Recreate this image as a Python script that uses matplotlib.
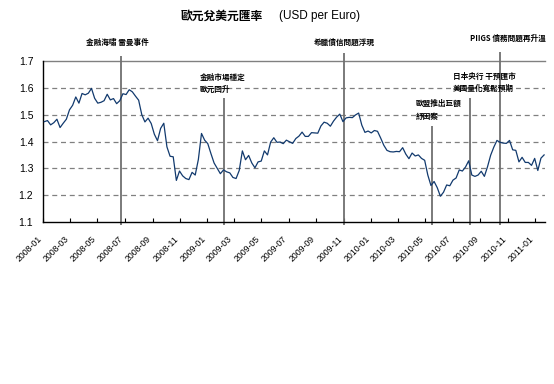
import matplotlib
matplotlib.use("Agg")
import matplotlib.pyplot as plt
import matplotlib.transforms as mtransforms
import pandas as pd
import numpy as np

# ---- data ----
start_week = "2008-01-04"
rate_2008 = [1.474, 1.478, 1.462, 1.470,
             1.483, 1.452, 1.468, 1.483, 1.518,
             1.535, 1.566, 1.543, 1.579,
             1.574, 1.580, 1.598, 1.561,
             1.543, 1.546, 1.552, 1.576, 1.555,
             1.560, 1.541, 1.552, 1.578,
             1.575, 1.593, 1.585, 1.569,
             1.554, 1.500, 1.473, 1.487, 1.467,
             1.427, 1.403, 1.449, 1.468,
             1.380, 1.345, 1.343, 1.255, 1.290,
             1.272, 1.262, 1.258, 1.285,
             1.275, 1.333, 1.430, 1.405]
rate_2009 = [1.392, 1.355, 1.320, 1.300, 1.280,
             1.294, 1.287, 1.283, 1.266,
             1.262, 1.292, 1.365, 1.332,
             1.348, 1.320, 1.302, 1.324,
             1.327, 1.365, 1.350, 1.398, 1.414,
             1.397, 1.398, 1.392, 1.405,
             1.399, 1.393, 1.411, 1.420, 1.435,
             1.419, 1.419, 1.433, 1.432,
             1.431, 1.458, 1.472, 1.468,
             1.457, 1.476, 1.491, 1.502, 1.474,
             1.488, 1.490, 1.489, 1.499,
             1.506, 1.461, 1.434, 1.439]
rate_2010 = [1.432, 1.441, 1.438, 1.413, 1.386,
             1.367, 1.362, 1.361, 1.363,
             1.362, 1.377, 1.353, 1.336,
             1.357, 1.346, 1.350, 1.337, 1.330,
             1.275, 1.236, 1.251, 1.228,
             1.196, 1.211, 1.238, 1.235,
             1.256, 1.264, 1.294, 1.290, 1.305,
             1.328, 1.275, 1.270, 1.275,
             1.289, 1.270, 1.306, 1.349,
             1.379, 1.404, 1.397, 1.394, 1.393,
             1.404, 1.369, 1.367, 1.324,
             1.341, 1.322, 1.322, 1.311, 1.337]
rate_2011 = [1.292, 1.338, 1.350]
rates = rate_2008 + rate_2009 + rate_2010 + rate_2011
dates = pd.date_range(start_week, periods=len(rates), freq="W-FRI")

tick_labels = ["2008-01", "2008-03", "2008-05", "2008-07", "2008-09", "2008-11",
               "2009-01", "2009-03", "2009-05", "2009-07", "2009-09", "2009-11",
               "2010-01", "2010-03", "2010-05", "2010-07", "2010-09", "2010-11",
               "2011-01"]

event_dates = ["2008-06-22", "2009-02-08", "2009-11-01", "2010-05-17", "2010-08-08", "2010-10-15"]
event_labels = ["金融海嘯 雷曼事件",
                "金融市場穩定\n歐元回升",
                "希臘債信問題浮現",
                "歐盟推出巨額\n紓困案",
                "日本央行 干預匯市\n美國量化寬鬆預期",
                "PIIGS 債務問題再升溫"]
event_tops = [1.719, 1.562, 1.730, 1.458, 1.562, 1.733]

title_cn = "歐元兌美元匯率"
title_en = "(USD per Euro)"

# ---- figure ----
W, H = 554, 384
fig = plt.figure(figsize=(W / 100, H / 100), dpi=100)
ax = fig.add_axes([43 / W, 1 - 222 / H, (545 - 43) / W, (222 - 61) / H])

cjk = ["Noto Sans CJK TC", "DejaVu Sans"]
latin = ["Liberation Sans", "DejaVu Sans"]

ax.set_ylim(1.1, 1.7)
ax.set_xlim(pd.Timestamp("2008-01-01"), pd.Timestamp("2011-01-23"))

for y in [1.2, 1.3, 1.4, 1.5, 1.6]:
    ax.axhline(y, color="#808080", lw=0.9, ls=(0, (4, 3)), zorder=1)
ax.axhline(1.7, color="#808080", lw=1.0, zorder=1, clip_on=False)

ev = pd.to_datetime(event_dates)
ax.vlines(ev, 1.09, event_tops, colors="#707070", lw=1.3, zorder=2, clip_on=False)

ax.plot(dates, rates, color="#123a6e", lw=0.9, zorder=3)

for spine in ["top", "right"]:
    ax.spines[spine].set_visible(False)
ax.spines["left"].set_linewidth(1.0)
ax.spines["bottom"].set_linewidth(1.0)

ax.set_yticks([1.1, 1.2, 1.3, 1.4, 1.5, 1.6, 1.7])
ax.set_yticklabels(["1.1", "1.2", "1.3", "1.4", "1.5", "1.6", "1.7"],
                   fontfamily=latin, fontsize=7.5)
ax.tick_params(axis="y", length=0, pad=7)

xt = pd.to_datetime([t + "-01" for t in tick_labels])
ax.set_xticks(xt)
ax.set_xticklabels(tick_labels, rotation=45, ha="right", va="top",
                   rotation_mode="anchor", fontfamily=latin, fontsize=6.3)
ax.tick_params(axis="x", direction="in", length=3, pad=9)
shift = mtransforms.ScaledTranslation(-6 / 100, 0, fig.dpi_scale_trans)
for lbl in ax.get_xticklabels():
    lbl.set_transform(lbl.get_transform() + shift)

# annotations
offsets = [(-3, 9), (-25, 4), (0, 6), (-17, 5), (-17, 5), (8, 9)]
aligns = ["center", "left", "center", "left", "left", "center"]
for d, lab, top, off, al in zip(ev, event_labels, event_tops, offsets, aligns):
    ax.annotate(lab, xy=(d, top), xytext=off, textcoords="offset pixels",
                ha=al, va="bottom", fontsize=5.5, fontweight="bold",
                fontfamily=cjk, linespacing=1.5, annotation_clip=False)

fig.text(263 / W, 1 - 16 / H, title_cn, ha="right", va="center",
         fontsize=8.5, fontweight="bold", fontfamily=cjk)
fig.text(279 / W, 1 - 16 / H, title_en, ha="left", va="center",
         fontsize=8.5, fontfamily=latin)

fig.savefig("out.png", dpi=100)
